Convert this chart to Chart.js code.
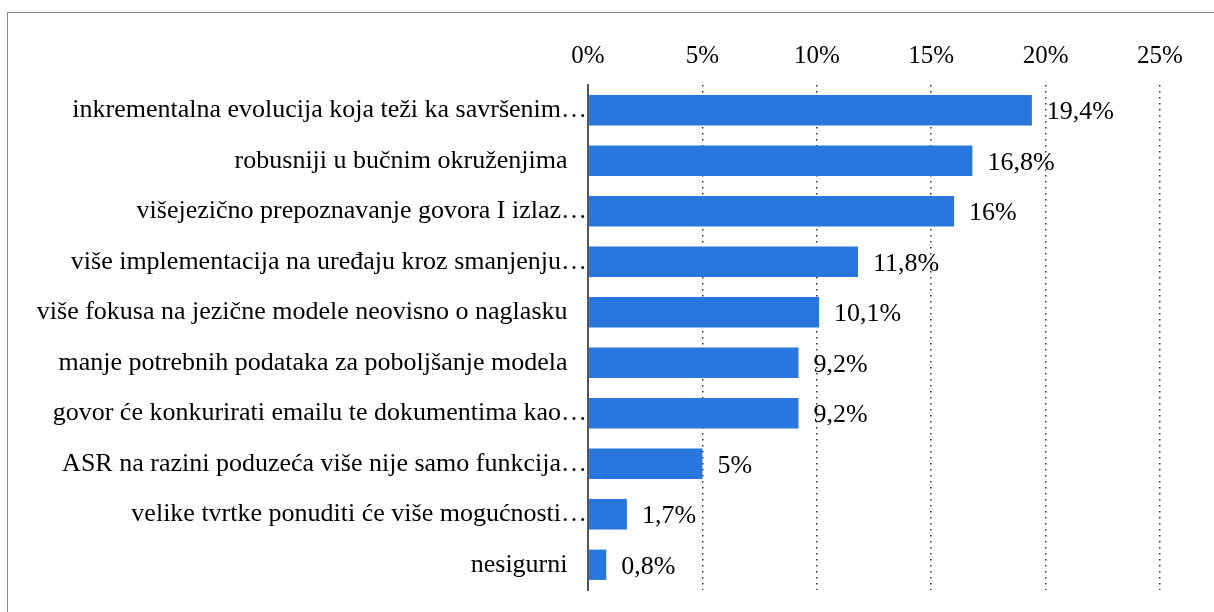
<!DOCTYPE html>
<html>
<head>
<meta charset="utf-8">
<script src="https://cdn.jsdelivr.net/npm/chart.js@4"></script>
<style>
  html, body { margin: 0; padding: 0; background: #fff; overflow: hidden; }
  #frame {
    position: absolute; left: 7px; top: 12px; width: 1220px; height: 620px;
    border-left: 1.5px solid #8a8a8a; border-top: 1.5px solid #8a8a8a;
  }
  #wrap { position: absolute; left: 0; top: 0; width: 1214px; height: 612px; }
</style>
</head>
<body>
<div id="frame"></div>
<div id="wrap"><canvas id="chart"></canvas></div>
<script>
const labels = [
  "inkrementalna evolucija koja teži ka savršenim…",
  "robusniji u bučnim okruženjima   ",
  "višejezično prepoznavanje govora I izlaz…",
  "više implementacija na uređaju kroz smanjenju…",
  "više fokusa na jezične modele neovisno o naglasku   ",
  "manje potrebnih podataka za poboljšanje modela   ",
  "govor će konkurirati emailu te dokumentima kao…",
  "ASR na razini poduzeća više nije samo funkcija…",
  "velike tvrtke ponuditi će više mogućnosti…",
  "nesigurni   "
];
const values = [19.4, 16.8, 16, 11.8, 10.1, 9.2, 9.2, 5, 1.7, 0.8];
const valueLabels = ["19,4%", "16,8%", "16%", "11,8%", "10,1%", "9,2%", "9,2%", "5%", "1,7%", "0,8%"];
const ticks = [0, 5, 10, 15, 20, 25];

const serif = "'Liberation Serif', 'Times New Roman', serif";

const valueLabelPlugin = {
  id: "valueLabels",
  afterDatasetsDraw(chart) {
    const ctx = chart.ctx;
    const meta = chart.getDatasetMeta(0);
    ctx.save();
    ctx.font = "26px " + serif;
    ctx.fillStyle = "#000";
    ctx.textAlign = "left";
    ctx.textBaseline = "middle";
    meta.data.forEach((bar, i) => {
      ctx.fillText(valueLabels[i], bar.x + 15, bar.y + 2);
    });
    ctx.restore();
  }
};

new Chart(document.getElementById("chart"), {
  type: "bar",
  data: {
    labels: labels,
    datasets: [{
      data: values,
      backgroundColor: "#2977de",
      borderWidth: 0,
      barPercentage: 0.6,
      categoryPercentage: 1
    }]
  },
  options: {
    indexAxis: "y",
    responsive: true,
    maintainAspectRatio: false,
    animation: false,
    layout: { padding: { top: 0, right: 54, bottom: 22, left: 0 } },
    plugins: { legend: { display: false }, tooltip: { enabled: false } },
    scales: {
      x: {
        position: "top",
        min: 0,
        max: 25,
        afterBuildTicks(axis) {
          axis.ticks = ticks.map(v => ({ value: v }));
        },
        afterFit(axis) { axis.height = 85; },
        ticks: {
          color: "#000",
          font: { family: serif, size: 25 },
          padding: 14,
          callback: v => v + "%"
        },
        grid: {
          drawTicks: false,
          color: ctx => (ctx.tick && ctx.tick.value === 0 ? "rgba(0,0,0,0)" : "#333"),
          lineWidth: 1.5
        },
        border: { display: false, dash: [1.5, 4.5] }
      },
      y: {
        afterFit(axis) { axis.width = 588; },
        ticks: {
          color: "#000",
          font: { family: serif, size: 26 },
          padding: 1
        },
        grid: { display: false, drawTicks: false },
        border: { display: true, color: "#555", width: 2 }
      }
    }
  },
  plugins: [valueLabelPlugin]
});
</script>
</body>
</html>
